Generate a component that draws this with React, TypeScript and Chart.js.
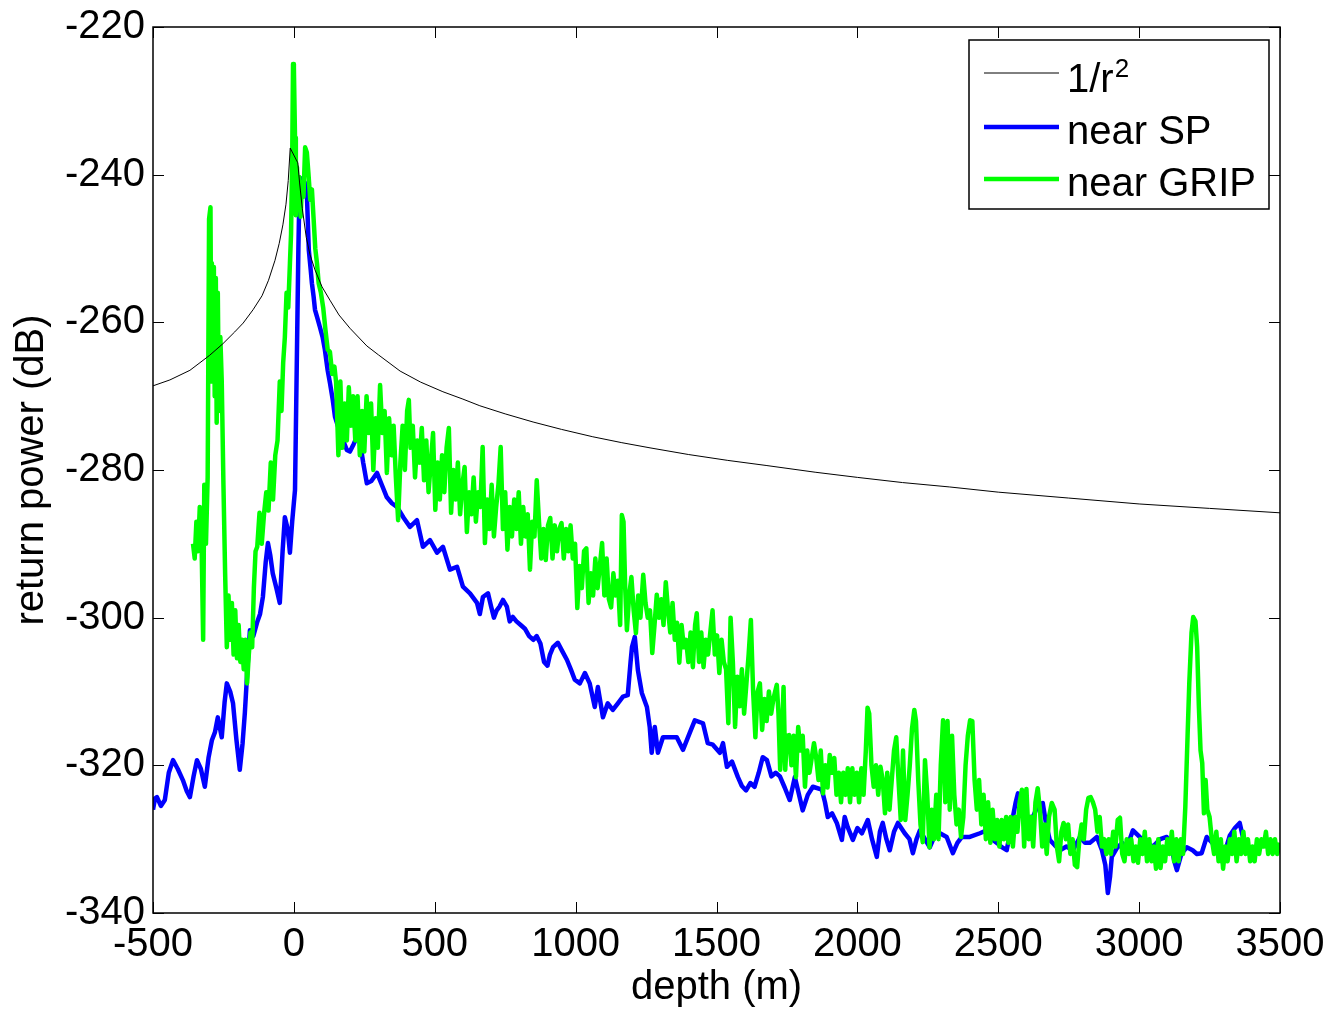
import React, { useEffect, useRef } from "react";
import { Chart, registerables } from "chart.js";

Chart.register(...registerables);

// ---------- data (depth in m, return power in dB) ----------
const xTicks = [-500, 0, 500, 1000, 1500, 2000, 2500, 3000, 3500];
const yTicks = [-340, -320, -300, -280, -260, -240, -220];

const seriesLabels = ["1/r\u00B2", "near SP", "near GRIP"];

const inverseSquare: [number, number][] = [
  [-500, -268.6], [-440, -267.8], [-369, -266.5], [-300, -264.5], [-252, -262.9], [-210, -261.3],
  [-180, -260.1], [-145, -258.3], [-113, -256.4], [-90, -254.3], [-67, -251.6], [-52, -249.3],
  [-39, -246.8], [-28, -244], [-20, -240.8], [-13, -236.4], [14, -238.4], [20, -241], [30, -244.6],
  [44, -248.5], [57, -250.8], [75, -252.9], [100, -255.2], [128, -257], [160, -259], [199, -260.8],
  [259, -263.2], [300, -264.4], [377, -266.6], [450, -268.1], [529, -269.4], [600, -270.4],
  [660, -271.3], [750, -272.4], [849, -273.5], [950, -274.5], [1061, -275.5], [1164, -276.3],
  [1264, -277], [1400, -277.9], [1540, -278.7], [1679, -279.4], [1850, -280.3], [2000, -281],
  [2160, -281.7], [2328, -282.3], [2500, -283], [2750, -283.8], [3000, -284.6], [3250, -285.2],
  [3500, -285.8],
];

const nearSP: [number, number][] = [
  [-500, -326], [-493, -324.5], [-486, -324.3], [-472, -325.5], [-458, -324.7], [-444, -321],
  [-429, -319.3], [-412, -320.5], [-394, -322], [-380, -323.5], [-369, -324.3], [-356, -321.5],
  [-344, -319.3], [-330, -320.5], [-316, -322.9], [-303, -319], [-291, -316.6], [-280, -315.5],
  [-270, -313.5], [-256, -316.2], [-246, -311.5], [-238, -308.9], [-226, -310], [-216, -311.6],
  [-204, -316.5], [-192, -320.6], [-182, -317], [-174, -312.9], [-165, -307], [-156, -301.7],
  [-144, -302.5], [-131, -300.7], [-120, -299.5], [-110, -297.2], [-100, -292.5], [-92, -289.9],
  [-84, -291.5], [-75, -294], [-62, -296], [-50, -298], [-40, -291], [-32, -286.4], [-22, -288],
  [-14, -291.2], [-6, -287], [4, -282.7], [8, -272], [12, -261], [16, -250], [20, -242],
  [26, -240.5], [32, -241.5], [38, -241], [46, -242.5], [53, -250.2], [60, -253], [64, -254.7],
  [70, -256.5], [75, -258.3], [84, -259.5], [92, -260.6], [102, -262], [110, -263.7],
  [120, -266.5], [128, -268.2], [138, -270.5], [146, -272.8], [160, -274.5], [175, -276],
  [188, -277.3], [199, -277.5], [212, -276.5], [224, -275.5], [234, -276], [246, -279],
  [259, -281.8], [275, -281.5], [295, -280.4], [312, -282], [330, -283.7], [348, -284.5],
  [366, -285], [390, -286.5], [412, -287.7], [437, -286.8], [458, -290.4], [483, -289.5],
  [508, -291.2], [529, -290.4], [554, -293.5], [579, -293.1], [600, -295.8], [625, -296.7],
  [650, -298], [660, -299.5], [671, -297.2], [689, -296.7], [700, -298.5], [710, -300],
  [720, -299], [730, -298.5], [742, -297.6], [756, -298.5], [766, -300.5], [777, -299.9],
  [790, -300.5], [805, -301], [820, -301.5], [835, -302.5], [850, -303], [862, -302.5],
  [875, -303.5], [888, -306], [900, -306.5], [909, -305], [920, -304], [937, -303.4],
  [952, -304.5], [969, -305.7], [983, -307], [997, -308.4], [1015, -308.9], [1033, -307.5],
  [1050, -308.9], [1068, -312.1], [1079, -309.4], [1097, -313.5], [1114, -311.6], [1132, -312.5],
  [1150, -311.6], [1168, -310.7], [1185, -310.5], [1195, -306], [1200, -304], [1210, -302.6],
  [1221, -307.1], [1235, -310.2], [1253, -312.1], [1263, -314.8], [1270, -318.3], [1281, -314.8],
  [1292, -318.3], [1310, -316.2], [1334, -316.2], [1359, -316.2], [1381, -317.9], [1405, -315.6],
  [1423, -313.9], [1452, -314.3], [1469, -317], [1487, -317.2], [1512, -318.3], [1523, -317],
  [1537, -320.2], [1555, -319.5], [1576, -321.6], [1590, -322.8], [1605, -323.4], [1620, -322.4],
  [1635, -322.9], [1650, -321], [1664, -318.9], [1679, -319.3], [1695, -321.5], [1710, -321],
  [1725, -321.5], [1742, -323], [1760, -324.7], [1778, -321.6], [1790, -323.5], [1806, -326.1],
  [1824, -324], [1842, -322.9], [1874, -323.3], [1885, -325], [1895, -327], [1910, -326.5],
  [1927, -327.8], [1945, -330.1], [1955, -327], [1966, -328.4], [1984, -330.1], [2000, -328.5],
  [2016, -329.2], [2037, -327.4], [2052, -330], [2069, -332.4], [2080, -329], [2090, -327.8],
  [2103, -330], [2115, -331.5], [2130, -329], [2144, -327.8], [2168, -329.2], [2185, -330],
  [2197, -331.9], [2210, -330], [2222, -328.8], [2240, -330], [2257, -331.1], [2275, -329.5],
  [2293, -329.2], [2317, -329.7], [2339, -331.9], [2355, -330.5], [2371, -329.7], [2399, -329.7],
  [2435, -329.2], [2459, -328.8], [2478, -330], [2495, -330.5], [2510, -331], [2530, -331.5],
  [2545, -328.5], [2552, -327], [2562, -325], [2570, -323.8], [2587, -325.6], [2594, -327],
  [2610, -327], [2623, -327], [2640, -325.5], [2658, -325.1], [2670, -328], [2683, -330.1],
  [2700, -330.8], [2719, -331.5], [2742, -331], [2765, -331.5], [2790, -329.7], [2808, -330.5],
  [2825, -330.5], [2850, -329.7], [2868, -331.5], [2880, -333.5], [2889, -337.3], [2897, -335],
  [2903, -332.4], [2921, -331.2], [2940, -330.5], [2956, -331.2], [2978, -328.8], [3002, -329.7],
  [3025, -330.5], [3049, -331], [3075, -330], [3098, -329.7], [3115, -331], [3125, -333],
  [3134, -334.2], [3150, -332], [3169, -331.1], [3190, -331.5], [3205, -332], [3222, -331.9],
  [3240, -329.7], [3260, -330.5], [3286, -331.5], [3297, -333.2], [3310, -331], [3322, -329.5],
  [3340, -328.5], [3357, -327.8], [3370, -330], [3382, -331], [3393, -332], [3403, -332.8],
  [3420, -331], [3439, -330.5], [3455, -331], [3474, -331.5], [3490, -331], [3500, -331.1],
];

const nearGRIP: [number, number][] = [
  [-358, -290], [-352, -292], [-346, -287], [-340, -291], [-334, -285], [-328, -289], [-322, -303],
  [-318, -282], [-312, -290], [-306, -281], [-301, -246], [-296, -244.4], [-293, -268],
  [-291, -252], [-287, -266], [-284, -252.5], [-281, -270], [-277, -254], [-274, -273.6],
  [-270, -256], [-266, -272], [-261, -262], [-256, -268], [-250, -282], [-244, -294], [-238, -304],
  [-232, -297], [-226, -303], [-220, -298], [-214, -305], [-208, -299], [-202, -305.5],
  [-196, -301], [-190, -306], [-184, -303], [-178, -307], [-172, -303], [-166, -308.9],
  [-160, -305], [-154, -302], [-148, -304], [-142, -296], [-136, -291], [-130, -290.4],
  [-122, -285.8], [-114, -290], [-106, -286], [-98, -283], [-90, -285.5], [-82, -279], [-74, -284],
  [-66, -278], [-58, -276], [-50, -268], [-44, -272], [-38, -265.5], [-32, -262], [-26, -256],
  [-20, -258], [-14, -252], [-10, -248], [-6, -238], [-3, -225], [0, -225.5], [4, -235],
  [7, -245.5], [11, -239], [15, -244], [19, -240.3], [24, -245.7], [29, -241], [34, -243],
  [40, -236.3], [46, -237], [52, -240], [58, -243.4], [64, -242], [70, -246], [76, -250],
  [82, -252], [88, -254.7], [96, -256], [104, -258], [112, -261], [120, -263.7], [128, -264],
  [136, -267], [144, -266], [150, -268.2],
  [158, -278], [165, -268], [172, -277], [180, -271], [188, -276], [195, -268.8], [202, -274],
  [210, -270], [218, -276], [226, -270], [234, -278], [242, -272], [250, -277.5], [258, -270],
  [266, -275], [274, -271], [282, -280], [290, -273], [298, -277], [306, -268.5], [314, -275],
  [322, -272], [330, -280.4], [338, -273], [346, -278], [354, -274], [362, -281], [370, -286.8],
  [378, -279], [386, -274], [394, -280], [402, -272], [408, -270.5], [414, -277], [422, -274],
  [430, -281], [438, -276], [446, -279], [454, -274.3], [462, -281.4], [470, -276], [478, -283],
  [486, -279], [494, -275], [502, -285.4], [510, -279], [518, -284], [526, -278], [534, -283],
  [542, -277], [550, -274.3], [558, -285.8], [566, -280], [574, -284], [582, -279], [590, -286],
  [598, -282], [606, -279.6], [614, -288.4], [622, -283], [630, -286], [638, -281], [646, -287],
  [654, -283], [662, -285], [670, -276.9], [678, -289.9], [686, -284], [694, -288], [702, -282],
  [710, -289], [718, -285], [726, -282], [734, -276.9], [742, -288], [750, -283], [758, -290.8],
  [766, -285], [774, -289], [782, -284], [790, -288], [798, -283], [806, -290], [814, -285],
  [822, -289], [830, -286], [838, -293.5], [846, -287], [854, -289], [862, -281.4], [870, -287],
  [878, -292], [886, -288], [894, -292.2], [902, -287.5], [910, -286.5], [918, -292],
  [926, -287.5], [934, -291], [942, -288], [950, -287.2], [958, -292], [966, -288], [974, -291],
  [982, -287.5], [990, -292], [998, -290], [1006, -298.7], [1014, -293], [1022, -296],
  [1030, -291], [1038, -290.6], [1046, -298], [1054, -294], [1062, -297], [1070, -292],
  [1078, -296], [1086, -293], [1094, -289.9], [1102, -297], [1110, -292], [1118, -297.5],
  [1126, -298.6], [1134, -294], [1142, -297], [1150, -295], [1158, -301], [1164, -286.1],
  [1170, -287], [1176, -296], [1182, -301.7], [1190, -297], [1198, -294.5], [1206, -299],
  [1214, -302.1], [1222, -297], [1230, -300], [1240, -294.2], [1248, -298], [1256, -300],
  [1264, -299], [1272, -304.8], [1280, -301], [1288, -296.9], [1296, -300], [1304, -297.5],
  [1312, -301], [1320, -295.2], [1328, -299], [1336, -302], [1344, -298], [1352, -303],
  [1360, -300.7], [1368, -306.1], [1376, -301], [1384, -304], [1392, -303], [1400, -306],
  [1408, -302], [1416, -306.7], [1424, -301], [1430, -299.4], [1438, -306], [1446, -302],
  [1454, -306.7], [1462, -303], [1470, -305], [1478, -302], [1486, -299], [1494, -305],
  [1502, -302.4], [1510, -307.5], [1518, -303], [1526, -306], [1534, -307], [1542, -314.3],
  [1550, -300], [1558, -306], [1566, -314.8], [1574, -308], [1582, -312], [1590, -307],
  [1598, -313], [1606, -309], [1614, -305], [1622, -300.3], [1630, -310], [1638, -316.2],
  [1646, -310], [1654, -308.9], [1662, -315.2], [1670, -311], [1678, -314], [1686, -310],
  [1694, -313], [1702, -311], [1714, -309.1], [1720, -313], [1726, -320.6], [1732, -316],
  [1738, -309.4], [1744, -320.6], [1750, -316], [1758, -315.9], [1766, -320], [1774, -316],
  [1782, -321.6], [1790, -314.8], [1798, -318], [1806, -316], [1814, -322.9], [1822, -318],
  [1830, -321], [1838, -319], [1846, -317], [1854, -319], [1862, -322], [1870, -318],
  [1878, -323.8], [1886, -320], [1894, -323], [1902, -318.6], [1910, -321], [1918, -319],
  [1926, -324], [1934, -321], [1942, -325], [1950, -321], [1958, -324], [1966, -320.4],
  [1974, -325], [1982, -320.4], [1990, -324], [1998, -321], [2006, -325], [2014, -320.4],
  [2022, -324], [2030, -318], [2036, -312.2], [2042, -313], [2050, -320], [2058, -322.9],
  [2066, -320], [2074, -324], [2082, -320.2], [2090, -322], [2098, -326.5], [2106, -321],
  [2114, -326], [2122, -322], [2130, -318], [2138, -316.2], [2146, -322], [2154, -327.4],
  [2162, -318], [2170, -327.4], [2178, -324], [2186, -320], [2194, -315], [2202, -312.5],
  [2208, -314], [2216, -322], [2224, -328], [2232, -330.4], [2240, -319.3], [2248, -324],
  [2256, -331.1], [2264, -326], [2272, -330], [2280, -324], [2288, -330], [2296, -320],
  [2304, -313.9], [2312, -325], [2320, -314], [2328, -326], [2336, -316], [2344, -324],
  [2352, -328], [2360, -326], [2368, -329.7], [2376, -327], [2384, -320], [2392, -316],
  [2400, -313.9], [2408, -314], [2416, -322], [2424, -326], [2432, -322], [2440, -328],
  [2448, -324], [2456, -330], [2464, -325], [2472, -330.5], [2480, -326], [2488, -330],
  [2496, -327.4], [2504, -331], [2512, -327.4], [2520, -330], [2528, -327], [2536, -330.5],
  [2544, -327], [2552, -331], [2560, -327], [2568, -329], [2576, -325], [2584, -323.3],
  [2592, -331], [2600, -323.2], [2608, -330], [2616, -327], [2624, -331], [2632, -325],
  [2640, -323.1], [2648, -326], [2656, -331], [2664, -328], [2672, -332], [2680, -327],
  [2690, -325.1], [2700, -326], [2708, -331], [2716, -333], [2724, -329], [2732, -327.8],
  [2740, -330], [2748, -328], [2756, -332], [2764, -330], [2772, -333.5], [2780, -333.8],
  [2788, -330], [2796, -328], [2804, -330], [2812, -326], [2820, -324.4], [2828, -324.3],
  [2836, -325], [2844, -326], [2852, -329], [2860, -327], [2868, -331], [2876, -330],
  [2884, -332], [2892, -330], [2900, -332], [2908, -329], [2916, -331], [2924, -327.4],
  [2932, -327.1], [2940, -332], [2948, -333], [2956, -330], [2964, -332], [2972, -330],
  [2980, -333], [2988, -331], [2996, -333.2], [3004, -330], [3012, -332], [3020, -329],
  [3028, -333], [3036, -330], [3044, -333], [3052, -331], [3060, -334], [3068, -330],
  [3076, -333.9], [3084, -331], [3092, -333], [3100, -330], [3108, -332], [3116, -329],
  [3124, -333], [3132, -330], [3140, -333], [3148, -330], [3156, -332], [3164, -325.6],
  [3172, -316], [3178, -308.9], [3186, -302], [3192, -299.9], [3200, -300.5], [3206, -304],
  [3212, -312], [3218, -318], [3224, -319.7], [3230, -326.5], [3236, -322], [3242, -326],
  [3250, -327], [3258, -330], [3266, -332], [3274, -329], [3282, -333], [3290, -330],
  [3298, -334], [3306, -331], [3314, -333], [3322, -330], [3330, -332], [3338, -329],
  [3346, -333], [3354, -330], [3362, -332], [3370, -329], [3378, -332], [3386, -330],
  [3394, -333], [3402, -331], [3410, -333], [3418, -330], [3426, -332], [3434, -330],
  [3442, -331], [3450, -329], [3458, -332], [3466, -330], [3474, -332], [3482, -330],
  [3490, -332], [3500, -330.5],
];

const FONT = "'Liberation Sans', Arial, Helvetica, sans-serif";

const toXY = (pts: [number, number][]) => pts.map(([x, y]) => ({ x, y }));

// inward ticks on all four sides + box frame (MATLAB style) + legend box
const framePlugin = {
  id: "matlabFrame",
  afterDatasetsDraw(chart: any) {
    const { ctx, chartArea: a, scales } = chart;
    const xs = scales.x;
    const ys = scales.y;
    const len = 11;
    ctx.save();
    ctx.strokeStyle = "#000";
    ctx.lineWidth = 1;
    ctx.beginPath();
    xTicks.forEach((v) => {
      const px = Math.round(xs.getPixelForValue(v)) + 0.5;
      ctx.moveTo(px, a.bottom);
      ctx.lineTo(px, a.bottom - len);
      ctx.moveTo(px, a.top);
      ctx.lineTo(px, a.top + len);
    });
    yTicks.forEach((v) => {
      const py = Math.round(ys.getPixelForValue(v)) + 0.5;
      ctx.moveTo(a.left, py);
      ctx.lineTo(a.left + len, py);
      ctx.moveTo(a.right, py);
      ctx.lineTo(a.right - len, py);
    });
    ctx.stroke();
    ctx.lineWidth = 1.5;
    ctx.strokeRect(a.left, a.top, a.right - a.left, a.bottom - a.top);
    ctx.restore();
  },
  afterDraw(chart: any) {
    const { ctx } = chart;
    const ds = chart.data.datasets;
    const box = { left: 969, top: 40, right: 1269, bottom: 209 };
    const rows = [73, 127, 179];
    ctx.save();
    ctx.fillStyle = "#fff";
    ctx.fillRect(box.left, box.top, box.right - box.left, box.bottom - box.top);
    ctx.strokeStyle = "#000";
    ctx.lineWidth = 1.5;
    ctx.strokeRect(box.left, box.top, box.right - box.left, box.bottom - box.top);
    ds.forEach((d: any, i: number) => {
      const y = rows[i];
      ctx.beginPath();
      ctx.strokeStyle = d.borderColor;
      ctx.lineWidth = d.borderWidth;
      ctx.moveTo(984, y);
      ctx.lineTo(1059, y);
      ctx.stroke();
      ctx.fillStyle = "#000";
      ctx.textBaseline = "alphabetic";
      ctx.textAlign = "left";
      const label: string = d.label;
      if (label.endsWith("\u00B2")) {
        const base = label.slice(0, -1);
        ctx.font = `40px ${FONT}`;
        ctx.fillText(base, 1067, y + 19);
        const w = ctx.measureText(base).width;
        ctx.font = `26px ${FONT}`;
        ctx.fillText("2", 1067 + w + 1, y + 4);
      } else {
        ctx.font = `40px ${FONT}`;
        ctx.fillText(label, 1067, y + 17);
      }
    });
    ctx.restore();
  },
};

export default function App() {
  const canvasRef = useRef<HTMLCanvasElement | null>(null);

  useEffect(() => {
    document.body.style.margin = "0";
    const canvas = canvasRef.current;
    if (!canvas) return;
    const chart = new Chart(canvas, {
      type: "line",
      data: {
        datasets: [
          {
            label: seriesLabels[0],
            data: toXY(inverseSquare),
            borderColor: "#000000",
            borderWidth: 1,
            pointRadius: 0,
            tension: 0,
            order: 0,
          },
          {
            label: seriesLabels[1],
            data: toXY(nearSP),
            borderColor: "#0000ff",
            borderWidth: 4.5,
            borderJoinStyle: "round",
            pointRadius: 0,
            tension: 0,
            order: 2,
          },
          {
            label: seriesLabels[2],
            data: toXY(nearGRIP),
            borderColor: "#00ff00",
            borderWidth: 4.5,
            borderJoinStyle: "round",
            pointRadius: 0,
            tension: 0,
            order: 1,
          },
        ],
      },
      options: {
        responsive: false,
        animation: false,
        devicePixelRatio: 1,
        layout: { padding: { left: 0, top: 27, right: 49, bottom: 0 } },
        plugins: {
          legend: { display: false },
          tooltip: { enabled: false },
        },
        scales: {
          x: {
            type: "linear",
            min: -500,
            max: 3500,
            afterBuildTicks: (s: any) => {
              s.ticks = xTicks.map((v) => ({ value: v }));
            },
            afterFit: (s: any) => {
              s.height = 99;
              s.paddingLeft = 0;
              s.paddingRight = 0;
            },
            grid: { display: false, drawTicks: false },
            border: { display: false },
            ticks: {
              color: "#000",
              font: { family: FONT, size: 40 },
              padding: 8,
              maxRotation: 0,
              autoSkip: false,
              callback: (v: any) => String(v),
            },
            title: {
              display: true,
              text: "depth (m)",
              color: "#000",
              font: { family: FONT, size: 40 },
              padding: { top: 0, bottom: 0 },
            },
          },
          y: {
            type: "linear",
            min: -340,
            max: -220,
            afterBuildTicks: (s: any) => {
              s.ticks = yTicks.map((v) => ({ value: v }));
            },
            afterFit: (s: any) => {
              s.width = 153;
              s.paddingTop = 0;
              s.paddingBottom = 0;
            },
            grid: { display: false, drawTicks: false },
            border: { display: false },
            ticks: {
              color: "#000",
              font: { family: FONT, size: 40 },
              padding: 8,
              autoSkip: false,
              callback: (v: any) => String(v),
            },
            title: {
              display: true,
              text: "return power (dB)",
              color: "#000",
              font: { family: FONT, size: 40 },
              padding: { top: 8, bottom: 0 },
            },
          },
        },
      },
      plugins: [framePlugin],
    });
    return () => chart.destroy();
  }, []);

  return (
    <div style={{ position: "absolute", left: 0, top: 0, width: 1329, height: 1012, background: "#fff" }}>
      <canvas ref={canvasRef} width={1329} height={1012} style={{ display: "block" }} />
    </div>
  );
}
